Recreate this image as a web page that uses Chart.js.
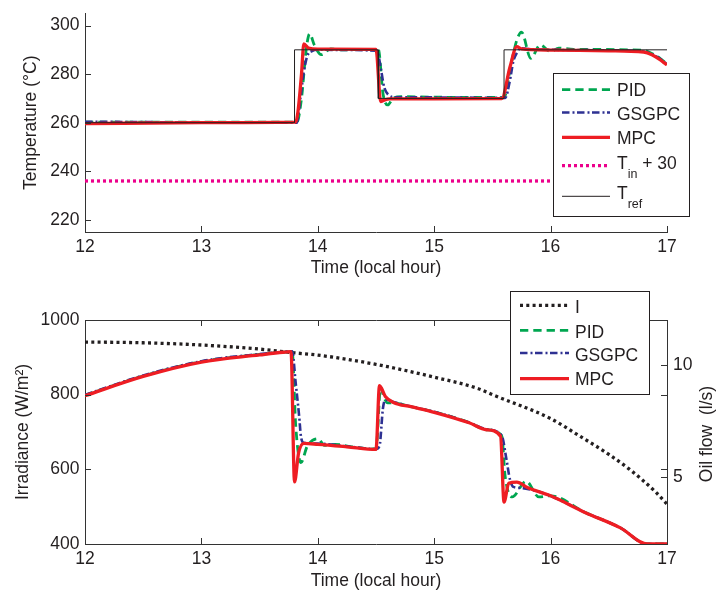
<!DOCTYPE html>
<html>
<head>
<meta charset="utf-8">
<title>Temperature and oil flow</title>
<script src="https://cdn.jsdelivr.net/npm/chart.js@4.4.1/dist/chart.umd.min.js"></script>
<style>
  body { margin: 0; background: #fff; }
  #wrap { position: relative; width: 718px; height: 592px; }
  canvas { position: absolute; left: 0; }
  #tempChart { top: 0; }
  #flowChart { top: 290px; }
</style>
</head>
<body>
<div id="wrap">
  <canvas id="tempChart" width="718" height="290"></canvas>
  <canvas id="flowChart" width="718" height="302"></canvas>
</div>
<script>
// ticks
const timeTicks = [12, 13, 14, 15, 16, 17];
const tempTicks = [220, 240, 260, 280, 300];
const irrTicks = [400, 600, 800, 1000];
const flowTicks = [5, 10];

// top plot: outlet temperature (local hour -> degC)
const trefHours = [12, 13.8, 13.8, 14.52, 14.52, 15.6, 15.6, 17];
const trefTemp = [260, 260, 290, 290, 270, 270, 290, 290];
const tinHours = [12, 17];
const tinTemp = [236, 236];
const mpcTempHours = [12, 13, 13.81, 13.83, 13.86, 13.88, 13.92, 14.0, 14.5, 14.54, 14.57, 14.62, 15.0, 15.58, 15.65, 15.71, 15.75, 16.0, 16.5, 16.8, 16.87, 16.94, 16.98, 17];
const mpcTemp = [259.6, 260, 260.2, 264.7, 280, 292.4, 290.7, 290.3, 290.2, 268.7, 269.3, 269.8, 269.8, 269.9, 282.7, 291.3, 290.4, 289.9, 289.6, 289.1, 288, 286, 284.5, 283.8];
const pidTempHours = [12, 13, 13.82, 13.86, 13.9, 13.93, 13.97, 14.03, 14.11, 14.2, 14.52, 14.56, 14.6, 14.65, 14.72, 15.0, 15.6, 15.66, 15.71, 15.75, 15.83, 15.91, 16.0, 16.07, 16.2, 16.8, 16.87, 16.94, 17];
const pidTemp = [260.2, 260.2, 260.2, 270, 290, 296.6, 292, 288, 290.4, 290, 290.2, 272, 267.3, 270.2, 270.7, 270.5, 270.4, 284, 294, 297.3, 286.5, 292, 289.3, 290.7, 290.2, 289.8, 288.5, 286.5, 284.2];
const gsgpcTempHours = [12, 13, 13.82, 13.85, 13.88, 13.91, 13.95, 14.0, 14.51, 14.54, 14.57, 14.61, 14.66, 15.0, 15.61, 15.65, 15.68, 15.71, 15.74, 15.8, 16.5, 16.8, 16.87, 16.94, 17];
const gsgpcTemp = [260.4, 260.1, 260, 270, 281, 287.5, 289.5, 290, 289.6, 282.7, 274.7, 271.3, 270.5, 270.4, 270.2, 277.3, 285.3, 288.7, 290.7, 290.3, 289.8, 289.2, 288.2, 286.3, 284.1];

// bottom plot: irradiance (W/m2) and oil flow (l/s)
const irrHours = [12, 12.5, 13, 13.5, 13.8, 14, 14.5, 15, 15.38, 15.5, 16, 16.24, 16.5, 16.67, 16.9, 17];
const irradiance = [941, 939, 933, 922, 912, 906, 881, 847, 816, 800, 736, 691, 640, 602, 540, 507];
const mpcFlowHours = [12, 12.5, 13, 13.5, 13.7, 13.77, 13.8, 13.835, 13.88, 14.0, 14.25, 14.5, 14.53, 14.58, 14.65, 14.8, 15.0, 15.3, 15.45, 15.57, 15.6, 15.64, 15.71, 15.8, 16.0, 16.3, 16.6, 16.83, 17];
const mpcFlow = [8.62, 9.48, 10.12, 10.44, 10.56, 10.59, 4.77, 6.07, 6.49, 6.45, 6.34, 6.22, 9.07, 8.59, 8.32, 8.13, 7.88, 7.41, 7.1, 6.81, 3.87, 4.71, 4.76, 4.52, 4.15, 3.4, 2.72, 2.0, 2.0];
const pidFlowHours = [12, 12.5, 13, 13.5, 13.7, 13.78, 13.81, 13.855, 13.91, 14.0, 14.06, 14.15, 14.3, 14.5, 14.54, 14.57, 14.6, 14.65, 14.8, 15.0, 15.3, 15.45, 15.58, 15.61, 15.67, 15.79, 15.9, 16.0, 16.3, 16.6, 16.83, 17];
const pidFlow = [8.64, 9.5, 10.14, 10.46, 10.56, 10.58, 7.3, 5.63, 6.37, 6.7, 6.4, 6.45, 6.33, 6.24, 9.0, 8.52, 8.3, 8.3, 8.13, 7.9, 7.42, 7.1, 6.83, 5.0, 4.1, 4.8, 4.1, 4.15, 3.4, 2.72, 2.0, 2.0];
const gsgpcFlowHours = [12, 12.5, 13, 13.5, 13.7, 13.78, 13.81, 13.84, 13.855, 13.88, 14.0, 14.25, 14.5, 14.53, 14.56, 14.58, 14.65, 14.8, 15.0, 15.3, 15.45, 15.58, 15.62, 15.65, 15.68, 15.75, 15.85, 16.0, 16.3, 16.6, 16.83, 17];
const gsgpcFlow = [8.66, 9.52, 10.16, 10.48, 10.57, 10.6, 9.19, 7.7, 6.81, 6.52, 6.48, 6.36, 6.24, 6.37, 8.07, 8.44, 8.34, 8.14, 7.9, 7.42, 7.12, 6.84, 5.8, 4.9, 4.55, 4.5, 4.4, 4.15, 3.4, 2.72, 2.0, 2.0];

const green = "#00a650";
const blue = "#2e3192";
const red = "#ee1d23";
const magenta = "#ec008c";
const black = "#231f20";
const textColor = "#231f20";
const axisColor = "#333333";
const family = "'Liberation Sans', Arial, sans-serif";
const tickFont = { family: family, size: 17.5, lineHeight: 0.9 };
const titleFont = { family: family, size: 17.5, lineHeight: 1.2 };

function pts(h, v) {
  return h.map((x, i) => ({ x: x, y: v[i] }));
}

function series(label, h, v, color, width, dash, axis, smooth) {
  return {
    label: label,
    data: pts(h, v),
    borderColor: color,
    borderWidth: width,
    borderDash: dash,
    borderJoinStyle: "round",
    pointRadius: 0,
    fill: false,
    tension: 0,
    cubicInterpolationMode: smooth ? "monotone" : "default",
    yAxisID: axis || "y",
  };
}

function tickList(list) {
  return function (s) {
    s.ticks = list.map((v) => ({ value: v }));
  };
}

function plainTicks(padding) {
  return { color: textColor, font: tickFont, padding: padding, maxRotation: 0, callback: (v) => String(v) };
}

function timeAxis(height, titlePad) {
  return {
    type: "linear",
    min: 12,
    max: 17,
    afterBuildTicks: tickList(timeTicks),
    afterFit: (s) => { s.height = height; },
    grid: { display: false, drawTicks: false },
    border: { display: true, color: axisColor, width: 1 },
    ticks: plainTicks(7),
    title: { display: true, text: "Time (local hour)", color: textColor, font: titleFont, padding: { top: 0, bottom: titlePad } },
  };
}

// inward ticks, box, right title
const frame = {
  id: "frame",
  afterDatasetsDraw(chart, args, opts) {
    const ctx = chart.ctx;
    const a = chart.chartArea;
    const x = chart.scales.x;
    const y = chart.scales.y;
    const y2 = chart.scales.y2;
    const len = 6;
    ctx.save();
    ctx.strokeStyle = axisColor;
    ctx.lineWidth = 1;
    ctx.setLineDash([]);
    ctx.beginPath();
    x.ticks.forEach((t) => {
      let px = Math.round(x.getPixelForValue(t.value)) + 0.5;
      ctx.moveTo(px, a.bottom);
      ctx.lineTo(px, a.bottom - len);
      if (opts.box) {
        ctx.moveTo(px, a.top);
        ctx.lineTo(px, a.top + len);
      }
    });
    y.ticks.forEach((t) => {
      let py = Math.round(y.getPixelForValue(t.value)) + 0.5;
      ctx.moveTo(a.left, py);
      ctx.lineTo(a.left + len, py);
      if (opts.box) {
        ctx.moveTo(a.right, py);
        ctx.lineTo(a.right - len, py);
      }
    });
    if (y2) {
      y2.ticks.forEach((t) => {
        let py = Math.round(y2.getPixelForValue(t.value)) + 0.5;
        ctx.moveTo(a.right, py);
        ctx.lineTo(a.right - len, py);
      });
    }
    if (opts.box) {
      let top = Math.round(a.top) + 0.5;
      ctx.moveTo(a.left, top);
      ctx.lineTo(a.right + 1, top);
    }
    ctx.stroke();
    if (opts.rightTitle) {
      ctx.fillStyle = textColor;
      ctx.font = titleFont.size + "px " + family;
      ctx.textAlign = "center";
      ctx.textBaseline = "middle";
      ctx.translate(opts.rightTitleX, (a.top + a.bottom) / 2 + 2);
      ctx.rotate(-Math.PI / 2);
      ctx.fillText(opts.rightTitle, 0, 0);
    }
    ctx.restore();
  },
};

// boxed legend like the original figure
const boxLegend = {
  id: "boxLegend",
  afterDraw(chart, args, opts) {
    const ctx = chart.ctx;
    const b = opts.box;
    ctx.save();
    ctx.fillStyle = "#ffffff";
    ctx.fillRect(b.x, b.y, b.w, b.h);
    ctx.strokeStyle = textColor;
    ctx.lineWidth = 1;
    ctx.setLineDash([]);
    ctx.strokeRect(b.x + 0.5, b.y + 0.5, b.w, b.h);
    opts.items.forEach((it) => {
      let ds = chart.data.datasets.find((d) => d.label === it.label);
      ctx.beginPath();
      ctx.strokeStyle = ds.borderColor;
      ctx.lineWidth = ds.borderWidth;
      ctx.setLineDash(ds.borderDash);
      ctx.moveTo(opts.lineX0, it.y);
      ctx.lineTo(opts.lineX1, it.y);
      ctx.stroke();
      ctx.setLineDash([]);

      ctx.fillStyle = textColor;
      ctx.textAlign = "left";
      ctx.textBaseline = "alphabetic";
      let m = it.label.match(/^(.*?)_(\w+)(.*)$/);
      let x = opts.textX;
      let big = titleFont.size + "px " + family;
      ctx.font = big;
      if (!m) {
        ctx.fillText(it.label, x, it.base);
        return;
      }
      ctx.fillText(m[1], x, it.base);
      x += ctx.measureText(m[1]).width;
      ctx.font = "12.5px " + family;
      ctx.fillText(m[2], x, it.base + 9.3);
      x += ctx.measureText(m[2]).width;
      ctx.font = big;
      ctx.fillText(m[3], x, it.base);
    });
    ctx.restore();
  },
};

let tempChart = new Chart(document.getElementById("tempChart"), {
  type: "line",
  data: {
    datasets: [
      series("T_ref", trefHours, trefTemp, black, 1, [], "y", false),
      series("T_in + 30", tinHours, tinTemp, magenta, 3.3, [3, 3], "y", false),
      series("MPC", mpcTempHours, mpcTemp, red, 3.3, [], "y", true),
      series("GSGPC", gsgpcTempHours, gsgpcTemp, blue, 2.6, [7.5, 3, 2, 2.5], "y", true),
      series("PID", pidTempHours, pidTemp, green, 2.8, [8.3, 5], "y", true),
    ],
  },
  options: {
    responsive: false,
    animation: false,
    devicePixelRatio: 1,
    layout: { padding: { top: 8, right: 51, left: 0, bottom: 0 } },
    plugins: {
      legend: { display: false },
      tooltip: { enabled: false },
      frame: { box: false },
      boxLegend: {
        box: { x: 553, y: 73, w: 136, h: 143 },
        lineX0: 562,
        lineX1: 610,
        textX: 617,
        items: [
          { label: "PID", y: 89.7, base: 95.5 },
          { label: "GSGPC", y: 112.5, base: 119.7 },
          { label: "MPC", y: 137.3, base: 144 },
          { label: "T_in + 30", y: 165.7, base: 168.7 },
          { label: "T_ref", y: 196.3, base: 198.7 },
        ],
      },
    },
    scales: {
      x: timeAxis(58, 11.5),
      y: {
        type: "linear",
        position: "left",
        min: 215,
        max: 305,
        afterBuildTicks: tickList(tempTicks),
        afterFit: (s) => { s.width = 85; },
        grid: { display: false, drawTicks: false },
        border: { display: true, color: axisColor, width: 1 },
        ticks: plainTicks(5.5),
        title: { display: true, text: "Temperature (\u00B0C)", color: textColor, font: titleFont, padding: { top: 20.5, bottom: 0 } },
      },
    },
  },
  plugins: [frame, boxLegend],
});

let flowChart = new Chart(document.getElementById("flowChart"), {
  type: "line",
  data: {
    datasets: [
      series("MPC", mpcFlowHours, mpcFlow, red, 3.3, [], "y2", true),
      series("GSGPC", gsgpcFlowHours, gsgpcFlow, blue, 2.6, [7.5, 3, 2, 2.5], "y2", true),
      series("PID", pidFlowHours, pidFlow, green, 2.8, [8.3, 5], "y2", true),
      series("I", irrHours, irradiance, black, 3.3, [3, 3.3], "y", true),
    ],
  },
  options: {
    responsive: false,
    animation: false,
    devicePixelRatio: 1,
    layout: { padding: { top: 30, right: 0, left: 0, bottom: 0 } },
    plugins: {
      legend: { display: false },
      tooltip: { enabled: false },
      frame: { box: true, rightTitle: "Oil flow  (l/s)", rightTitleX: 707.5 },
      boxLegend: {
        box: { x: 510, y: 1, w: 139, h: 103 },
        lineX0: 520,
        lineX1: 569,
        textX: 575,
        items: [
          { label: "I", y: 15.3, base: 22.7 },
          { label: "PID", y: 40.3, base: 47.7 },
          { label: "GSGPC", y: 63, base: 71 },
          { label: "MPC", y: 88.7, base: 95.3 },
        ],
      },
    },
    scales: {
      x: timeAxis(48, 0),
      y: {
        type: "linear",
        position: "left",
        min: 400,
        max: 1000,
        afterBuildTicks: tickList(irrTicks),
        afterFit: (s) => { s.width = 85; },
        grid: { display: false, drawTicks: false },
        border: { display: true, color: axisColor, width: 1 },
        ticks: plainTicks(5.5),
        title: { display: true, text: "Irradiance (W/m\u00B2)", color: textColor, font: titleFont, padding: { top: 12.5, bottom: 0 } },
      },
      y2: {
        type: "linear",
        position: "right",
        min: 2,
        max: 12,
        afterBuildTicks: tickList(flowTicks),
        afterFit: (s) => { s.width = 51; },
        grid: { display: false, drawTicks: false },
        border: { display: true, color: axisColor, width: 1 },
        ticks: plainTicks(6),
      },
    },
  },
  plugins: [frame, boxLegend],
});
</script>
</body>
</html>
